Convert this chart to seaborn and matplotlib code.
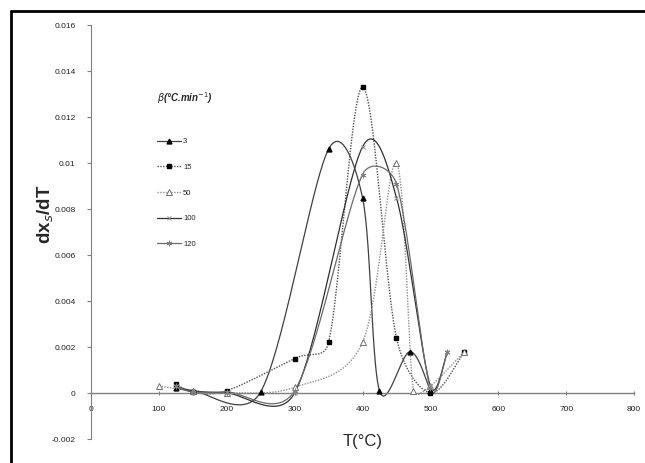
import numpy as np
import matplotlib
matplotlib.use("Agg")
import matplotlib.pyplot as plt
from matplotlib.lines import Line2D
import seaborn as sns

# values (T in degC, dx_s/dT)
temp_3 = [125, 150, 250, 350, 400, 425, 470, 500]
rate_3 = [0.0002, 0.0001, 0.00005, 0.0106, 0.0085, 0.0001, 0.0018, 0.0001]

temp_15 = [125, 150, 200, 300, 350, 400, 450, 500, 550]
rate_15 = [0.0004, 0.00003, 0.0001, 0.0015, 0.0022, 0.0133, 0.0024, 0.0, 0.0018]

temp_50 = [100, 150, 200, 300, 400, 450, 475, 500, 550]
rate_50 = [0.0003, 0.0001, 0.0, 0.00025, 0.0022, 0.0100, 0.0001, 0.0003, 0.0018]

temp_100 = [125, 150, 200, 300, 400, 450, 500, 525]
rate_100 = [0.0003, 0.0001, 0.0, 0.0, 0.0107, 0.0085, 0.0003, 0.0018]

temp_120 = [125, 150, 200, 300, 400, 450, 500, 525]
rate_120 = [0.0003, 0.00005, 0.00005, 0.0001, 0.0095, 0.0091, 0.0002, 0.0018]

heating_rates = ['3', '15', '50', '100', '120']
x_ticks = [0, 100, 200, 300, 400, 500, 600, 700, 800]
y_ticks = [-0.002, 0, 0.002, 0.004, 0.006, 0.008, 0.01, 0.012, 0.014, 0.016]
y_tick_labels = ['-0.002', '0', '0.002', '0.004', '0.006', '0.008', '0.01', '0.012', '0.014', '0.016']

series = [
    (temp_3, rate_3, dict(color='#404040', ls='-', lw=0.9),
     dict(marker='^', ms=3.5, mfc='black', mec='black')),
    (temp_15, rate_15, dict(color='#505050', ls=(0, (1, 1)), lw=1.0),
     dict(marker='s', ms=3.5, mfc='black', mec='black')),
    (temp_50, rate_50, dict(color='#909090', ls=(0, (1, 1)), lw=1.0),
     dict(marker='^', ms=4, mfc='white', mec='#707070', mew=0.7)),
    (temp_100, rate_100, dict(color='#303030', ls='-', lw=0.9),
     dict(marker='x', ms=3, mec='#909090', mew=0.7)),
    (temp_120, rate_120, dict(color='#6a6a6a', ls='-', lw=0.9),
     dict(marker=(6, 2, 0), ms=4, mec='#808080', mew=0.7)),
]


def excel_smooth(xs, ys, kx, ky, n=40):
    # Excel-style smoothed line: Bezier segments, handles capped at half a segment
    p = np.column_stack([np.asarray(xs, float) * kx, np.asarray(ys, float) * ky])
    p = np.vstack([p[0], p, p[-1]])
    t = np.linspace(0, 1, n)[:, None]
    out = []
    for i in range(1, len(p) - 2):
        p0, p1, p2, p3 = p[i - 1], p[i], p[i + 1], p[i + 2]
        d12 = np.hypot(*(p2 - p1))
        d02 = np.hypot(*(p2 - p0))
        d13 = np.hypot(*(p3 - p1))
        f1 = 1 / 6 if d02 / 6 <= d12 / 2 else d12 / (2 * d02)
        f2 = 1 / 6 if d13 / 6 <= d12 / 2 else d12 / (2 * d13)
        b1 = p1 + (p2 - p0) * f1
        b2 = p2 - (p3 - p1) * f2
        out.append((1 - t) ** 3 * p1 + 3 * (1 - t) ** 2 * t * b1
                   + 3 * (1 - t) * t ** 2 * b2 + t ** 3 * p2)
    c = np.vstack(out)
    return c[:, 0] / kx, c[:, 1] / ky


sns.set_theme(style='white')
plt.rcParams['font.family'] = ['Liberation Sans', 'DejaVu Sans']

fig = plt.figure(figsize=(6.45, 4.63), dpi=100)
ax = fig.add_axes([91 / 645, 1 - 439 / 463, 543 / 645, 414 / 463])
ax.set_xlim(0, 800)
ax.set_ylim(-0.002, 0.016)

kx = 543 / 800
ky = 414 / 0.018
handles = []
for (xs, ys, line_kw, mark_kw), name in zip(series, heating_rates):
    sx, sy = excel_smooth(xs, ys, kx, ky)
    sns.lineplot(x=sx, y=sy, sort=False, estimator=None, ax=ax, **line_kw)
    ax.plot(xs, ys, ls='none', zorder=3, **mark_kw)
    handles.append(Line2D([], [], label=name, **line_kw, **mark_kw))

# axes styling (Excel look)
for side in ['top', 'right']:
    ax.spines[side].set_visible(False)
ax.spines['bottom'].set_position(('data', 0))
ax.spines['bottom'].set_color('#808080')
ax.spines['left'].set_color('#808080')
ax.spines['bottom'].set_linewidth(1.0)
ax.spines['left'].set_linewidth(0.8)

ax.set_xticks(x_ticks)
ax.set_xticklabels([str(v) for v in x_ticks])
ax.set_yticks(y_ticks)
ax.set_yticklabels(y_tick_labels)
ax.tick_params(axis='y', direction='out', length=3, width=0.8, color='#808080',
               pad=8, labelsize=6, labelcolor='#202020', left=True)
ax.tick_params(axis='x', direction='inout', length=3, width=0.8, color='#808080',
               pad=8, labelsize=6, labelcolor='#202020', bottom=True)

ax.set_ylabel('dx$_s$/dT', fontsize=13.5, fontweight='bold')
ax.yaxis.set_label_coords(-0.064, 0.543)
ax.set_xlabel('T(°C)', fontsize=12)
ax.xaxis.set_label_coords(0.5, 0.012)

leg = ax.legend(handles=handles, loc='upper left',
                bbox_to_anchor=(157 / 645, 1 - 138 / 463),
                bbox_transform=fig.transFigure, frameon=False, fontsize=5.5,
                borderpad=0, borderaxespad=0, labelspacing=2.4,
                handlelength=3.1, handletextpad=0.3)
fig.text(157 / 645, 1 - 98 / 463, r'$\beta$(°C.min$^{-1}$)', fontsize=7,
         fontweight='bold', fontstyle='italic', va='center', ha='left')

# outer frame of the cropped figure
fig.add_artist(Line2D([11 / 645, 1], [1 - 10.5 / 463, 1 - 10.5 / 463],
                      color='black', lw=2, transform=fig.transFigure))
fig.add_artist(Line2D([11 / 645, 11 / 645], [0, 1 - 10.5 / 463],
                      color='black', lw=2, transform=fig.transFigure))

fig.savefig('out.png', dpi=100)
